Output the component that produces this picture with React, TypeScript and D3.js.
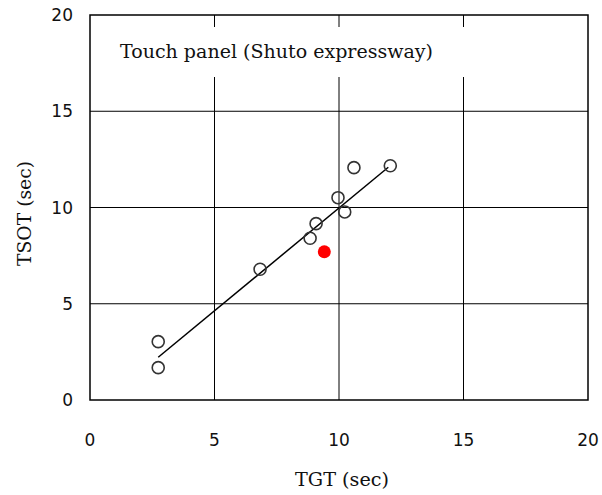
import React from "react";
import * as d3 from "d3";

// TGT / TSOT measurements (sec)
const tgtValues = [2.74, 2.74, 6.83, 8.84, 9.08, 9.96, 10.23, 10.6, 12.06];
const tsotValues = [3.03, 1.68, 6.79, 8.4, 9.16, 10.51, 9.77, 12.07, 12.17];
// highlighted point
const highlightTgt = [9.41];
const highlightTsot = [7.7];
// fitted line end points
const fitTgt = [2.74, 11.98];
const fitTsot = [2.22, 12.09];

const xTicks = [0, 5, 10, 15, 20];
const yTicks = [0, 5, 10, 15, 20];
const title = "Touch panel (Shuto expressway)";

const width = 602, height = 495;
const margin = { top: 15, right: 14, bottom: 95, left: 90 };

export default function App() {
  const x = d3.scaleLinear().domain([0, 20]).range([margin.left, width - margin.right]);
  const y = d3.scaleLinear().domain([0, 20]).range([height - margin.bottom, margin.top]);

  const pts = tgtValues.map((v, i) => ({ x: v, y: tsotValues[i] }));
  const hl = highlightTgt.map((v, i) => ({ x: v, y: highlightTsot[i] }));
  const fit = fitTgt.map((v, i) => [v, fitTsot[i]] as [number, number]);

  const line = d3.line<[number, number]>()
    .x(d => x(d[0]))
    .y(d => y(d[1]));

  const tickFont = "'DejaVu Sans', sans-serif";
  const serif = "'DejaVu Serif', serif";

  return (
    <svg width={width} height={height} style={{ position: "absolute", left: 0, top: 0, background: "#fff" }}>
      {/* grid */}
      {xTicks.slice(1, -1).map(t => (
        <line key={"gx" + t} x1={x(t)} x2={x(t)} y1={y(0)} y2={y(20)} stroke="#000" strokeWidth={1} />
      ))}
      {yTicks.slice(1, -1).map(t => (
        <line key={"gy" + t} x1={x(0)} x2={x(20)} y1={y(t)} y2={y(t)} stroke="#000" strokeWidth={1} />
      ))}

      {/* title box */}
      <rect x={x(0) + 2} y={27} width={x(20) - x(0) - 4} height={50} fill="#fff" />
      <text x={120} y={58} fontFamily={serif} fontSize={18} textLength={313} lengthAdjust="spacingAndGlyphs" fill="#111">
        {title}
      </text>

      {/* frame */}
      <rect x={x(0)} y={y(20)} width={x(20) - x(0)} height={y(0) - y(20)} fill="none" stroke="#000" strokeWidth={1.5} />

      {/* fit line */}
      <path d={line(fit) ?? ""} fill="none" stroke="#000" strokeWidth={1.5} />

      {/* points */}
      {pts.map((d, i) => (
        <circle key={"p" + i} cx={x(d.x)} cy={y(d.y)} r={6} fill="none" stroke="#333" strokeWidth={1.6} />
      ))}
      {hl.map((d, i) => (
        <circle key={"h" + i} cx={x(d.x)} cy={y(d.y)} r={6.5} fill="#ff0000" />
      ))}

      {/* tick labels */}
      {yTicks.map(t => (
        <text key={"yl" + t} x={73} y={y(t)} dy="0.36em" textAnchor="end" fontFamily={tickFont} fontSize={17} fill="#111">
          {t}
        </text>
      ))}
      {xTicks.map(t => (
        <text key={"xl" + t} x={x(t)} y={440} dy="0.36em" textAnchor="middle" fontFamily={tickFont} fontSize={17} fill="#111">
          {t}
        </text>
      ))}

      {/* axis titles */}
      <text x={(x(0) + x(20)) / 2 + 3} y={486} textAnchor="middle" fontFamily={serif} fontSize={18} textLength={94} lengthAdjust="spacingAndGlyphs" fill="#111">
        TGT (sec)
      </text>
      <text transform={`translate(31,${y(10) + 6}) rotate(-90)`} textAnchor="middle" fontFamily={serif} fontSize={18} textLength={105} lengthAdjust="spacingAndGlyphs" fill="#111">
        TSOT (sec)
      </text>
    </svg>
  );
}
